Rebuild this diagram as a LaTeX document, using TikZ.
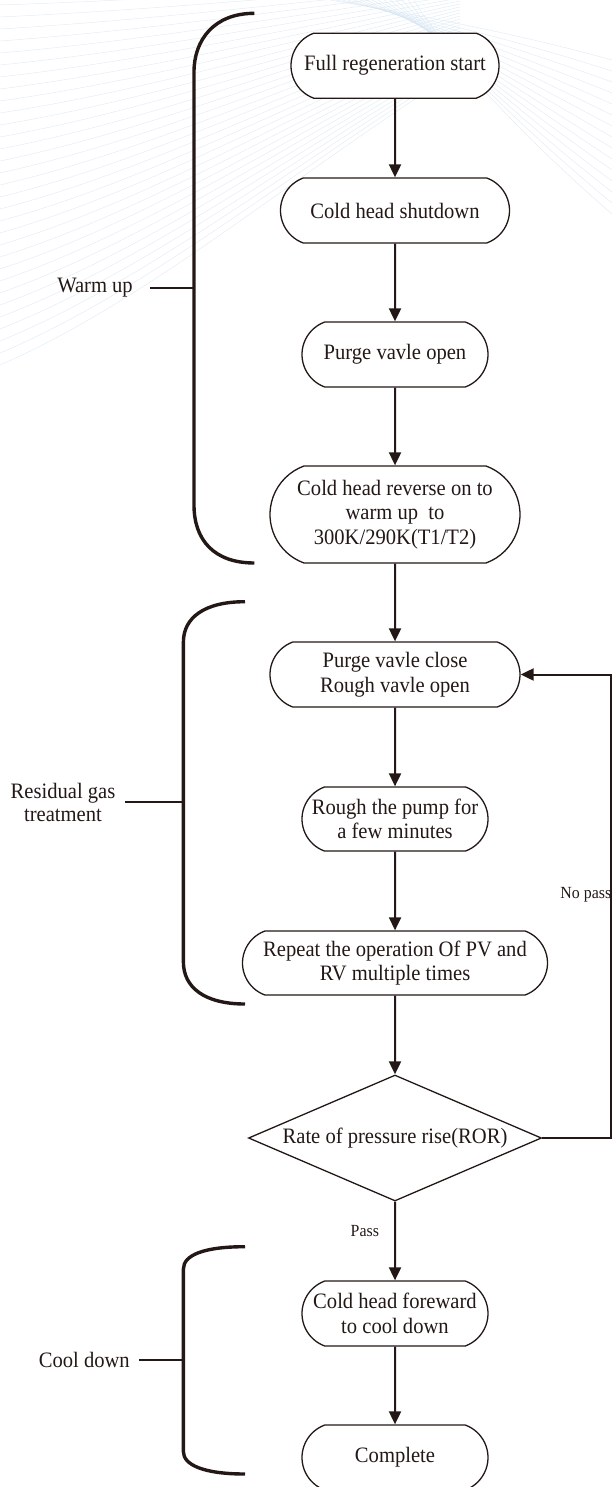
\documentclass[tikz,border=0pt]{standalone}
\usepackage{fontspec}
\setmainfont{Liberation Serif}[FakeStretch=0.936]
\usetikzlibrary{shapes.misc,shapes.geometric,arrows.meta}
\definecolor{ink}{RGB}{35,24,21}
\definecolor{bgl}{RGB}{214,229,242}
\tikzset{
  proc/.style={rounded rectangle, rounded rectangle arc length=140, draw=ink, line width=1.3pt, fill=white,
    inner sep=0pt, align=center, font=\fontsize{22}{24.6}\selectfont, text=ink},
  decide/.style={diamond, draw=ink, line width=1.3pt, fill=white, inner sep=0pt, aspect=2.33,
    minimum width=293pt, minimum height=126pt, font=\fontsize{22}{24.6}\selectfont, text=ink},
  flow/.style={draw=ink, line width=2pt, -{Triangle[length=13pt,width=12pt]}},
  plain/.style={draw=ink, line width=2pt},
  brace/.style={draw=ink, line width=3.4pt},
  side/.style={align=center, font=\fontsize{22}{23.5}\selectfont, text=ink, inner sep=0pt},
  small/.style={font=\fontsize{17}{19}\selectfont, text=ink, inner sep=0pt},
  bg/.style={draw=bgl, line width=0.5pt, opacity=0.7}
}
\begin{document}
\begin{tikzpicture}[x=1pt,y=-1pt]
\useasboundingbox (0,0) rectangle (612,1487);
% faint background pattern
\foreach \k in {0,...,30} {
  \draw[bg] (0,{12*\k+5}) .. controls (150,{10*\k}) and (300,{6*\k-10}) .. (460,{3*\k-20});
}
\foreach \k in {0,...,14} {
  \draw[bg] ({330+6*\k},0) .. controls (450,{20+3*\k}) and (540,{40+8*\k}) .. (612,{60+11*\k});
}
% nodes
\node[proc, minimum width=208pt, minimum height=65pt] (n1) at (395,65.7) {Full regeneration start};
\node[proc, minimum width=229pt, minimum height=65pt] (n2) at (395,210.5) {Cold head shutdown};
\node[proc, minimum width=186pt, minimum height=65pt] (n3) at (395,354.5) {Purge vavle open};
\node[proc, minimum width=250pt, minimum height=97pt] (n4) at (395,514.5) {Cold head reverse on to\\warm up~ to\\300K/290K(T1/T2)};
\node[proc, minimum width=250pt, minimum height=65pt] (n5) at (395,674.5) {Purge vavle close\\Rough vavle open};
\node[proc, minimum width=186pt, minimum height=64pt] (n6) at (395,819) {Rough the pump for\\a few minutes};
\node[proc, minimum width=305pt, minimum height=64pt] (n7) at (395,963) {Repeat the operation Of PV and\\RV multiple times};
\node[decide] (d) at (395,1138) {Rate of pressure rise(ROR)};
\node[proc, minimum width=186pt, minimum height=65pt] (n9) at (395,1313.5) {Cold head foreward\\to cool down};
\node[proc, minimum width=186pt, minimum height=65pt] (n10) at (395,1457.5) {Complete};
% connectors
\draw[flow] (n1) -- (n2);
\draw[flow] (n2) -- (n3);
\draw[flow] (n3) -- (n4);
\draw[flow] (n4) -- (n5);
\draw[flow] (n5) -- (n6);
\draw[flow] (n6) -- (n7);
\draw[flow] (n7) -- (d);
\draw[flow] (d) -- node[small, pos=0.37, left=15pt] {Pass} (n9);
\draw[flow] (n9) -- (n10);
\coordinate (fb) at (611,1138);
\draw[flow] (d.east) -- (fb) -- (fb |- n5.east) -- (n5.east);
\node[small, anchor=east] (np) at (611.5,895) {No pass};
% brackets
\draw[brace] (254.4,13.3) .. controls (214,13.3) and (194,40) .. (194,72) -- (194,505) .. controls (194,540) and (214,563) .. (254.4,563);
\coordinate (w1) at (150,288); \coordinate (w2) at (194,288);
\draw[plain] (w1) -- (w2);
\node[side, anchor=east] (lw) at (133,288) {Warm up};
\draw[brace] (245,601.7) .. controls (204,601.7) and (183.4,618) .. (183.4,642) -- (183.4,962) .. controls (183.4,987) and (204,1004) .. (245,1004);
\coordinate (r1) at (125,801.7); \coordinate (r2) at (183.4,801.7);
\draw[plain] (r1) -- (r2);
\node[side] (lr) at (63,802.5) {Residual gas\\treatment};
\draw[brace] (245,1246.7) .. controls (204,1246.7) and (183.4,1255) .. (183.4,1269) -- (183.4,1451.7) .. controls (183.4,1465) and (204,1474) .. (245,1474);
\coordinate (c1) at (139.3,1360.3); \coordinate (c2) at (183.4,1360.3);
\draw[plain] (c1) -- (c2);
\node[side, anchor=east] (lc) at (130,1360.3) {Cool down};
\end{tikzpicture}
\end{document}
